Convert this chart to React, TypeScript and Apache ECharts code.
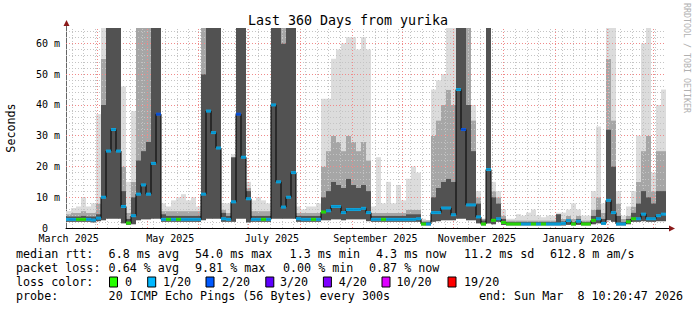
import React, { useEffect, useRef } from "react";
import * as echarts from "echarts";

const DAY = 86400000;
const END = Date.UTC(2026, 2, 8, 10, 20, 47);
const START = END - 360 * DAY;
const COLUMN_DAYS = 3;

// median round-trip time per 3-day column (ms)
const med = [
  2.8, 2.8, 2.8, 2.8, 2.8, 2.6, 3.2, 10, 25, 32,
  25, 7, 1.6, 4, 11, 14, 11, 21, 37, 2.8,
  2.8, 2.8, 2.8, 2.8, 2.8, 2.8, 2.8, 11, 38, 31,
  26, 3, 2.8, 8.5, 37, 23, 9.5, 2.8, 2.8, 2.8,
  2.8, 40, 15, 6.8, 10, 18, 3, 2.8, 2.8, 2.8,
  2.8, 5.2, 5.6, 7, 7, 5, 6, 6, 6, 6.4,
  5, 2.8, 2.8, 2.8, 2.8, 2.8, 2.8, 2.8, 2.8, 2.8,
  3, 1.3, 1.3, 5, 5, 6.5, 6.5, 4.3, 45, 32,
  7.5, 7.5, 3.6, 1.3, 19, 2.5, 3, 1.8, 1.3, 1.3,
  1.3, 1.3, 1.3, 1.3, 1.3, 1.3, 1.3, 1.3, 1.3, 1.5,
  2.4, 1.3, 2.2, 1.3, 1.3, 2.5, 3, 1.5, 9, 5,
  1.3, 1.3, 2, 3, 3, 4.5, 3, 3, 4, 4.5,
];
// bottom of the smoke (fastest pings)
const lo = [
  2, 2, 2, 2, 2, 1.8, 2.2, 2.5, 3, 3,
  3, 1.5, 1, 1.2, 2.5, 2.8, 2.8, 3, 3, 2,
  2, 2, 2, 2, 2, 2, 2, 2.5, 3, 3,
  3, 2, 2, 2, 3, 3, 1.8, 2, 2, 2,
  2, 3, 3, 3, 3, 3, 2, 2, 2, 2,
  2, 2.5, 2.5, 2.8, 2.8, 2.5, 2.8, 2.8, 2.8, 2.8,
  2.2, 2, 2, 2, 2, 2, 2, 2, 2, 2,
  2, 0.8, 0.8, 2, 2.2, 2.5, 2.5, 2.5, 3, 3,
  2.5, 2.5, 1.5, 0.8, 1.5, 1.2, 2, 1, 0.8, 0.8,
  0.8, 0.8, 0.8, 0.8, 0.8, 0.8, 0.8, 0.8, 0.8, 0.8,
  1, 0.8, 1, 0.8, 0.8, 1.2, 1.5, 1, 2.5, 2,
  0.8, 0.8, 1.2, 2, 2, 2.2, 2, 2, 2.2, 2.2,
];
// top of the dense (dark) smoke
const mid = [
  3.8, 3.8, 3.8, 4, 3.8, 3.8, 4.5, 40, 65, 65,
  65, 12, 3, 10, 22, 25, 28, 65, 65, 4.5,
  4, 4, 4, 4, 4, 4, 4, 50, 65, 65,
  65, 5, 4, 23, 65, 65, 12, 4, 4, 4,
  4, 65, 65, 60, 65, 65, 4, 4, 4, 4,
  4, 10, 12, 15, 14, 13, 16, 14, 13, 14,
  12, 4, 4, 4, 4, 4, 4, 4, 4.5, 4.5,
  4.5, 2, 2, 10, 13, 15, 16, 15, 65, 65,
  40, 25, 8, 2.5, 65, 10, 8, 3, 2, 2,
  2, 2, 2, 2, 2, 2, 2, 2, 4.5, 2.2,
  3, 2, 3, 2, 2, 4, 6, 3, 32, 20,
  4, 2, 3, 5, 8, 12, 10, 8, 12, 12,
];
// top of the medium-grey smoke
const upper = [
  4.5, 5, 5, 5.5, 5, 5, 8, 55, 65, 65,
  65, 20, 5, 15, 65, 65, 65, 65, 65, 5.5,
  5.5, 5.5, 5.5, 5.5, 5.5, 5.5, 5.5, 65, 65, 65,
  65, 6, 5, 23, 65, 65, 13, 5.5, 5.5, 5.5,
  5.5, 65, 65, 65, 65, 65, 5, 5, 5, 5,
  5, 20, 25, 30, 28, 25, 30, 28, 25, 28,
  22, 5, 5, 5, 5, 5, 5, 5, 6, 6,
  6, 2.5, 2.5, 30, 35, 40, 45, 40, 65, 65,
  65, 35, 10, 3, 65, 12, 10, 4, 2.5, 2.5,
  2.5, 2.5, 2.5, 2.5, 2.5, 2.5, 2.5, 2.5, 4.6, 3,
  4, 3, 4, 2.5, 2.5, 6, 10, 5, 55, 35,
  8, 3, 4, 7, 15, 25, 30, 12, 25, 25,
];
// top of the light smoke (slowest pings)
const hi = [
  5.5, 6.5, 7, 10, 7, 8, 37, 65, 65, 65,
  65, 46, 15, 38, 65, 65, 65, 65, 65, 8,
  7, 9, 10, 11, 9, 10, 7, 65, 65, 65,
  65, 8, 8, 24, 65, 65, 15, 9, 10, 9,
  8, 65, 65, 65, 65, 65, 7, 6, 7, 7,
  8, 42, 42, 55, 58, 60, 62, 62, 58, 62,
  58, 7, 23, 8, 15, 8, 14, 9, 16, 20,
  18, 3, 2.5, 45, 48, 50, 65, 65, 65, 65,
  65, 40, 12, 3, 65, 15, 12, 6, 3, 3,
  4.5, 4, 5, 6, 4, 3.5, 4, 4, 5, 5,
  6, 8, 6, 4, 4, 12, 33, 8, 65, 65,
  12, 4, 7, 12, 30, 60, 65, 18, 40, 45,
];
// lost pings out of 20
const loss = [
  1, 1, 0, 0, 1, 1, 1, 1, 1, 1,
  1, 1, 0, 1, 1, 1, 1, 1, 2, 1,
  0, 1, 0, 1, 1, 1, 1, 1, 1, 1,
  1, 1, 1, 1, 2, 1, 1, 1, 1, 0,
  1, 1, 1, 1, 1, 1, 1, 1, 1, 0,
  1, 0, 1, 1, 1, 1, 1, 1, 1, 1,
  1, 1, 1, 0, 1, 1, 1, 1, 1, 1,
  1, 0, 1, 1, 1, 1, 1, 1, 1, 2,
  1, 1, 1, 0, 1, 0, 1, 0, 0, 0,
  0, 1, 1, 0, 1, 0, 1, 1, 1, 1,
  1, 0, 1, 0, 0, 0, 1, 1, 1, 1,
  1, 1, 0, 0, 1, 1, 1, 1, 1, 1,
];

const lossLegendLabels = ["0", "1/20", "2/20", "3/20", "4/20", "10/20", "19/20"];
const lossLegendColors = ["#26ff00", "#00b8ff", "#0059ff", "#5e00ff", "#7e00ff", "#dd00ff", "#ff0000"];
const lossLevelColor: Record<number, string> = { 0: "#26ff00", 1: "#00b8ff", 2: "#0059ff" };

const xLabelNames = ["March 2025", "May 2025", "July 2025", "September 2025", "November 2025", "January 2026"];
const xLabelDates = ["2025-03-15", "2025-05-15", "2025-07-15", "2025-09-15", "2025-11-15", "2026-01-15"];
const monthStartDates = [
  "2025-04-01", "2025-05-01", "2025-06-01", "2025-07-01", "2025-08-01", "2025-09-01",
  "2025-10-01", "2025-11-01", "2025-12-01", "2026-01-01", "2026-02-01", "2026-03-01",
];
const firstMonday = "2025-03-17";
const yMajorTicks = [10, 20, 30, 40, 50, 60];

const legendRow1 = [
  ["median rtt:", 16], ["6.8 ms avg", 108.6], ["54.0 ms max", 195], ["1.3 ms min", 289.6],
  ["4.3 ms now", 376], ["11.2 ms sd", 464], ["612.8 m am/s", 550],
] as [string, number][];
const legendRow2 = [
  ["packet loss:", 16], ["0.64 % avg", 108.6], ["9.81 % max", 195], ["0.00 % min", 283], ["0.87 % now", 369],
] as [string, number][];
const legendRow4 = [
  ["probe:", 16], ["20 ICMP Echo Pings (56 Bytes) every 300s", 108.6],
] as [string, number][];
const endText = "end: Sun Mar  8 10:20:47 2026";
const boxX = [109.5, 147.7, 206, 265.8, 323.4, 382, 448];
const boxLabelX = [125, 163, 222, 280, 338.7, 396.4, 464];

const dayOf = (s: string) => (Date.parse(s + "T00:00:00Z") - START) / DAY;
const categories = med.map((_, i) => new Date(START + i * COLUMN_DAYS * DAY).toISOString().slice(0, 10));

const MONO = '"DejaVu Sans Mono", monospace';

export default function App() {
  const ref = useRef<HTMLDivElement>(null);
  useEffect(() => {
    if (!ref.current) return;
    const chart = echarts.init(ref.current, undefined, { renderer: "svg" });

    const xLabelDays = xLabelDates.map(dayOf);
    const weekly: number[] = [];
    for (let d = dayOf(firstMonday); d < 360; d += 7) weekly.push(d);
    const monthly = monthStartDates.map(dayOf).filter((d) => d > 0 && d < 360);
    const yMinor: number[] = [];
    for (let v = 2; v < 65; v += 2) if (v % 10 !== 0) yMinor.push(v);

    const font = (size: number) => ({ fontFamily: MONO, fontSize: size });
    const textEl = (text: string, x: number, y: number, size: number, extra: any = {}) => ({
      type: "text",
      x,
      y,
      silent: true,
      ...extra,
      style: {
        text,
        ...font(size),
        fill: extra.fill || "#000",
        align: extra.align || "left",
        verticalAlign: "middle",
      },
    });

    const graphic: any[] = [
      textEl("Last 360 Days from yurika", 348, 20, 13.3, { align: "center" }),
      textEl("Seconds", 11, 128, 11.7, { align: "center", rotation: Math.PI / 2 }),
      textEl("RRDTOOL / TOBI OETIKER", 687, 58, 8.3, { align: "center", rotation: -Math.PI / 2, fill: "#b0b0b0" }),
      { type: "line", silent: true, shape: { x1: 66.5, y1: 28, x2: 66.5, y2: 23 }, style: { stroke: "#666", lineWidth: 1 } },
      { type: "line", silent: true, shape: { x1: 666, y1: 228.5, x2: 670, y2: 228.5 }, style: { stroke: "#000", lineWidth: 1 } },
      { type: "polygon", silent: true, shape: { points: [[63.5, 26], [66.5, 20], [69.5, 26]] }, style: { fill: "#8b1a1a" } },
      { type: "polygon", silent: true, shape: { points: [[669, 225.5], [675, 228.5], [669, 231.5]] }, style: { fill: "#8b1a1a" } },
    ];
    legendRow1.forEach(([t, x]) => graphic.push(textEl(t, x, 254, 11.7)));
    legendRow2.forEach(([t, x]) => graphic.push(textEl(t, x, 268, 11.7)));
    graphic.push(textEl("loss color:", 16, 282, 11.7));
    lossLegendLabels.forEach((lab, i) => {
      graphic.push({
        type: "rect",
        silent: true,
        shape: { x: boxX[i], y: 277, width: 8, height: 10 },
        style: { fill: lossLegendColors[i], stroke: "#000", lineWidth: 1 },
      });
      graphic.push(textEl(lab, boxLabelX[i], 282, 11.7));
    });
    legendRow4.forEach(([t, x]) => graphic.push(textEl(t, x, 296, 11.7)));
    graphic.push(textEl(endText.replace(/  /g, " \u00a0"), 683, 296, 11.7, { align: "right" }));

    const gridSeries = (name: string, color: string, data: any[]) => ({
      name,
      type: "line",
      xAxisIndex: 1,
      yAxisIndex: 0,
      data: [[0, 0]],
      symbol: "none",
      silent: true,
      lineStyle: { opacity: 0 },
      markLine: {
        silent: true,
        symbol: ["none", "none"],
        label: { show: false },
        z: 5,
        lineStyle: { color, type: [1, 2], width: 1, opacity: 1 },
        emphasis: { disabled: true },
        data,
      },
    });

    const band = (name: string, data: number[], color: string, z: number) => ({
      name,
      type: "bar",
      stack: "smoke",
      data,
      barCategoryGap: "0%",
      itemStyle: { color },
      silent: true,
      z,
    });

    const option: any = {
      animation: false,
      backgroundColor: "#ffffff",
      grid: { left: 66, top: 28, width: 600, height: 200, outerBoundsMode: "none" },
      xAxis: [
        { type: "category", data: categories, show: false, boundaryGap: true },
        {
          type: "value",
          min: 0,
          max: 360,
          position: "bottom",
          axisLine: { show: true, onZero: false, lineStyle: { color: "#000", width: 1 } },
          axisTick: { show: false },
          splitLine: { show: false },
          axisLabel: {
            customValues: xLabelDays,
            formatter: (v: number) => {
              const i = xLabelDays.findIndex((d) => Math.abs(d - v) < 0.01);
              return i >= 0 ? xLabelNames[i] : "";
            },
            ...font(10),
            color: "#000",
            margin: 5,
          },
        },
      ],
      yAxis: {
        type: "value",
        min: 0,
        max: 65,
        interval: 10,
        axisLine: { show: true, lineStyle: { color: "#666" } },
        axisTick: { show: false },
        splitLine: { show: false },
        axisLabel: {
          formatter: (v: number) => (v === 0 ? "{z|0}" : v > 62 ? "" : v + " m"),
          rich: { z: { ...font(10), color: "#000", padding: [0, 12, 0, 0] } },
          showMaxLabel: false,
          ...font(10),
          color: "#000",
          margin: 6,
        },
      },
      series: [
        band("base", lo, "rgba(0,0,0,0)", 2),
        band("dense", mid.map((m, i) => m - lo[i]), "#525252", 7),
        band("medium", upper.map((u, i) => u - mid[i]), "#a6a6a6", 2),
        band("light", hi.map((h, i) => h - upper[i]), "#dcdcdc", 2),
        gridSeries("minor grid", "#c4c4c4", [
          ...weekly.map((d) => ({ xAxis: d })),
          ...yMinor.map((v) => ({ yAxis: v })),
        ]),
        gridSeries("major grid", "#f08a8a", [
          ...monthly.map((d) => ({ xAxis: d })),
          ...yMajorTicks.map((v) => ({ yAxis: v })),
        ]),
        { name: "median", type: "line", data: med, step: "middle", symbol: "none", lineStyle: { color: "#000", width: 1 }, silent: true, z: 10 },
        {
          name: "loss",
          type: "scatter",
          data: med.map((v, i) => ({ value: v, itemStyle: { color: lossLevelColor[loss[i]] } })),
          symbol: "rect",
          symbolSize: [5, 3],
          silent: true,
          z: 11,
        },
      ],
      graphic,
    };
    chart.setOption(option);
    return () => chart.dispose();
  }, []);
  return (
    <div
      ref={ref}
      style={{ position: "fixed", left: 0, top: 0, width: 697, height: 310, background: "#fff" }}
    />
  );
}
